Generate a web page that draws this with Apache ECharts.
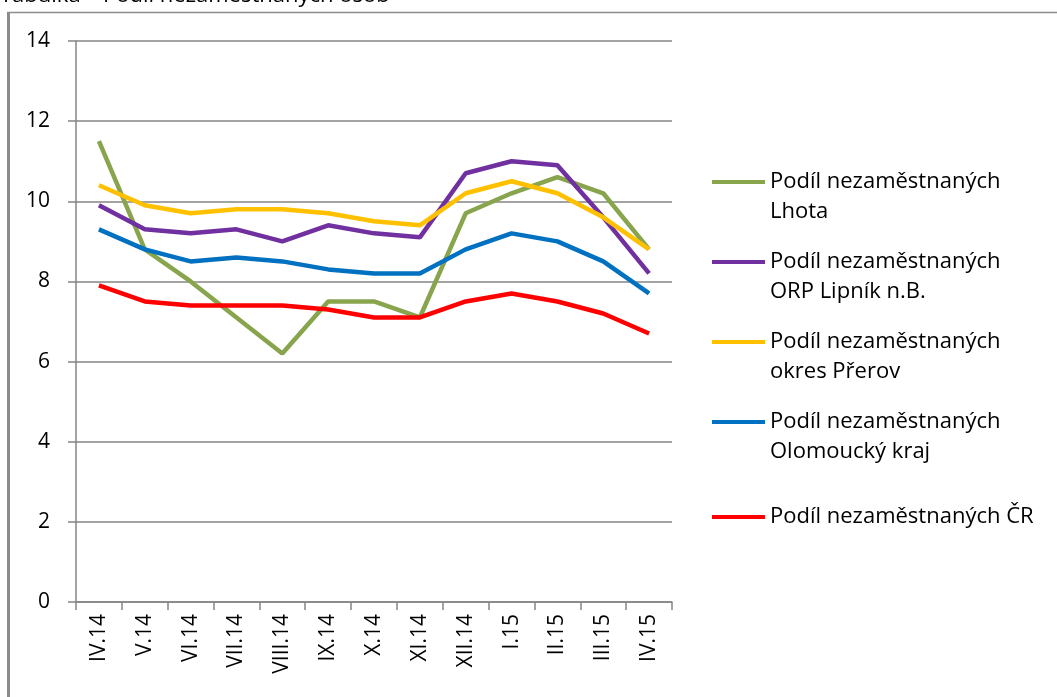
<!DOCTYPE html>
<html>
<head>
<meta charset="utf-8">
<script src="https://cdn.jsdelivr.net/npm/echarts@6/dist/echarts.min.js"></script>
<style>
  html, body { margin: 0; padding: 0; background: #fff; }
  #chart { width: 1057px; height: 697px; }
</style>
</head>
<body>
<div id="chart"></div>
<script>
// kategorie (měsíce)
var months = ['IV.14', 'V.14', 'VI.14', 'VII.14', 'VIII.14', 'IX.14', 'X.14', 'XI.14', 'XII.14', 'I.15', 'II.15', 'III.15', 'IV.15'];
var yTicks = [0, 2, 4, 6, 8, 10, 12, 14];

// hodnoty
var lhota = [11.5, 8.8, 8.0, 7.1, 6.2, 7.5, 7.5, 7.1, 9.7, 10.2, 10.6, 10.2, 8.8];
var orpLipnik = [9.9, 9.3, 9.2, 9.3, 9.0, 9.4, 9.2, 9.1, 10.7, 11.0, 10.9, 9.6, 8.2];
var okresPrerov = [10.4, 9.9, 9.7, 9.8, 9.8, 9.7, 9.5, 9.4, 10.2, 10.5, 10.2, 9.6, 8.8];
var olomouckyKraj = [9.3, 8.8, 8.5, 8.6, 8.5, 8.3, 8.2, 8.2, 8.8, 9.2, 9.0, 8.5, 7.7];
var cr = [7.9, 7.5, 7.4, 7.4, 7.4, 7.3, 7.1, 7.1, 7.5, 7.7, 7.5, 7.2, 6.7];

var seriesNames = [
    'Podíl nezaměstnaných\nLhota',
    'Podíl nezaměstnaných\nORP Lipník n.B.',
    'Podíl nezaměstnaných\nokres Přerov',
    'Podíl nezaměstnaných\nOlomoucký kraj',
    'Podíl nezaměstnaných ČR'
];
var seriesData = [lhota, orpLipnik, okresPrerov, olomouckyKraj, cr];
var seriesColors = ['#88a54e', '#7030a0', '#ffc000', '#0070c0', '#ff0000'];

var FONT = 'Open Sans';
var gridColor = '#858585';

// ikona legendy - čára u prvního řádku textu
var iconTop = 'path://M0,13H53V17H0Z M0,0H0.01V0.01H0Z M53,60H53.01V60.01H53Z';
var iconMid = 'path://M0,28H53V32H0Z M0,0H0.01V0.01H0Z M53,60H53.01V60.01H53Z';

var chart = echarts.init(document.getElementById('chart'));

var series = [];
var legendData = [];
for (var i = 0; i < seriesNames.length; i++) {
    series.push({
        name: seriesNames[i],
        type: 'line',
        data: seriesData[i],
        showSymbol: false,
        symbol: 'circle',
        color: seriesColors[i],
        lineStyle: { width: 4.5, color: seriesColors[i] },
        itemStyle: { color: seriesColors[i] },
        animation: false
    });
    legendData.push({
        name: seriesNames[i],
        icon: seriesNames[i].indexOf('\n') >= 0 ? iconTop : iconMid
    });
}

var option = {
    animation: false,
    grid: { left: 76, top: 41, right: 385, bottom: 95 },
    legend: {
        orient: 'vertical',
        left: 712,
        top: 167,
        padding: 0,
        itemWidth: 53,
        itemHeight: 60,
        itemGap: 20,
        selectedMode: false,
        data: legendData,
        textStyle: { fontFamily: FONT, fontSize: 22, color: '#000', lineHeight: 30 }
    },
    xAxis: {
        type: 'category',
        data: months,
        boundaryGap: true,
        axisLine: { lineStyle: { color: gridColor, width: 1.5 } },
        axisTick: { show: true, length: 8, interval: 0, lineStyle: { color: gridColor, width: 1.5 } },
        axisLabel: { rotate: 90, interval: 0, margin: 12, fontFamily: FONT, fontSize: 21, color: '#000' },
        splitLine: { show: false }
    },
    yAxis: {
        type: 'value',
        min: yTicks[0],
        max: yTicks[yTicks.length - 1],
        interval: 2,
        axisLine: { show: true, lineStyle: { color: gridColor, width: 1.5 } },
        axisTick: { show: true, length: 8, lineStyle: { color: gridColor, width: 1.5 } },
        axisLabel: { margin: 26, fontFamily: FONT, fontSize: 21, color: '#000' },
        splitLine: { show: true, lineStyle: { color: gridColor, width: 1.5 } }
    },
    graphic: [
        {
            type: 'text',
            left: 0,
            top: -15,
            style: { text: 'Tabulka – Podíl nezaměstnaných osob', fontFamily: FONT, fontSize: 22, fill: '#000' }
        },
        {
            type: 'line',
            shape: { x1: 8.5, y1: 12, x2: 8.5, y2: 697 },
            style: { stroke: '#8c8c8c', lineWidth: 3 }
        },
        {
            type: 'line',
            shape: { x1: 7, y1: 12.5, x2: 1057, y2: 12.5 },
            style: { stroke: '#8c8c8c', lineWidth: 1.5 }
        }
    ],
    series: series
};

chart.setOption(option);
</script>
</body>
</html>
